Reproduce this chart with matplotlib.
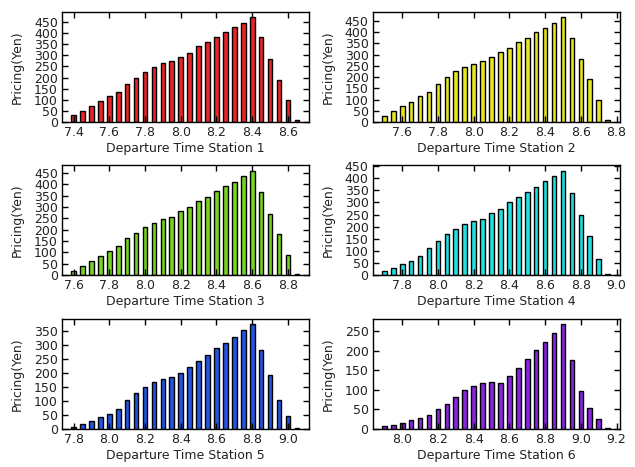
import numpy as np
import matplotlib
matplotlib.use("Agg")
import matplotlib.pyplot as plt

x_start = [7.40, 7.50, 7.60, 7.70, 7.80, 7.90]
step = 0.05

s1 = [30, 50, 70, 95, 115, 135, 170, 200, 225, 245, 265, 275, 290, 310, 340, 360, 380, 405, 425, 445, 470, 380, 285, 190, 100, 10]
s2 = [25, 50, 70, 90, 115, 135, 170, 200, 225, 245, 260, 270, 290, 310, 330, 355, 375, 400, 420, 440, 465, 375, 280, 190, 100, 10]
s3 = [20, 40, 60, 85, 105, 130, 165, 185, 210, 230, 245, 255, 280, 300, 325, 345, 370, 390, 410, 435, 460, 365, 270, 180, 90, 5]
s4 = [15, 28, 45, 60, 80, 110, 140, 168, 190, 210, 222, 232, 255, 275, 300, 322, 345, 362, 387, 410, 432, 340, 247, 160, 65, 3]
s5 = [8, 18, 30, 42, 55, 70, 103, 128, 152, 167, 180, 188, 200, 222, 245, 265, 290, 310, 330, 355, 375, 285, 192, 103, 47, 5]
s6 = [7, 10, 15, 22, 28, 37, 50, 65, 83, 100, 110, 117, 120, 117, 137, 157, 180, 203, 223, 247, 268, 177, 97, 53, 25, 2]
series = [s1, s2, s3, s4, s5, s6]
labels = ["Departure Time Station %d" % i for i in range(1, 7)]
colors = ['#e8262a', '#e6e622', '#77d420', '#22e0e0', '#2255e0', '#8a25e0']

fig = plt.figure(figsize=(6.35, 4.67), dpi=100)

lefts = [0.0976, 0.587]
width = 0.389
bottoms = [0.7388, 0.411, 0.0814]
height = 0.235

for i, (vals, lab, c, xs) in enumerate(zip(series, labels, colors, x_start)):
    r, col = divmod(i, 2)
    ax = fig.add_axes([lefts[col], bottoms[r], width, height])
    x = xs + step * np.arange(len(vals))
    ax.bar(x, vals, width=0.026, color=c, edgecolor='black', linewidth=1.0, align='center')
    ax.set_xlim(x[0] - 0.065, x[-1] + 0.068)
    ax.set_ylim(0, max(vals) * 1.05)
    ax.xaxis.set_major_locator(matplotlib.ticker.MultipleLocator(0.2))
    ax.yaxis.set_major_locator(matplotlib.ticker.MultipleLocator(50))
    ax.xaxis.set_major_formatter(matplotlib.ticker.FormatStrFormatter('%.1f'))
    ax.tick_params(direction='in', top=True, right=True, length=4, width=1,
                   labelsize=9, pad=3, colors='black', labelcolor='#222222')
    ax.set_xlabel(lab, fontsize=9, color='#222222', labelpad=2)
    ax.set_ylabel('Pricing(Yen)', fontsize=9, color='#222222', labelpad=7)
    for sp in ax.spines.values():
        sp.set_linewidth(1.0)

fig.savefig('out.png', dpi=100)
